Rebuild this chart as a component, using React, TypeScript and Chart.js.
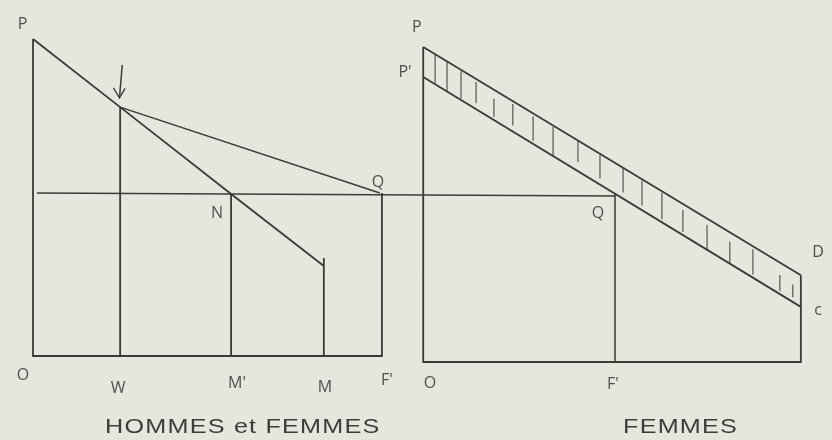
import React, { useEffect, useRef } from "react";
import { Chart, registerables } from "chart.js";

Chart.register(...registerables);

// ---- Data (diagram units) ----
// Left panel: HOMMES et FEMMES
const leftFrameX = [0, 0, 99.7, 99.7];
const leftFrameY = [100, 0, 0, 51.4];
const demandX = [0, 24.9, 56.6, 83.1];
const demandY = [100, 78.5, 51.1, 28.4];
const chordX = [24.9, 99.1];
const chordY = [78.5, 51.4];
const dropX = [24.9, 56.6, 83.1];
const dropTopY = [78.5, 51.1, 30.9];
const arrowX = [25.5, 24.7];
const arrowY = [91.8, 81.4];
const arrowHeadX = [23.0, 24.7, 26.3];
const arrowHeadY = [84.6, 81.4, 84.4];
// Common wage level
const wageLineX = [1.1, 166.3];
const wageLineY = [51.4, 50.5];
// Right panel: FEMMES
const rightFrameX = [111.5, 111.5, 219.4, 219.4];
const rightFrameY = [97.5, -1.9, -1.9, 25.5];
const topLineX = [111.5, 219.4];
const topLineY = [97.5, 25.5];
const lowLineX = [111.5, 219.4];
const lowLineY = [88.0, 15.5];
const qDropX = [166.3, 166.3];
const qDropY = [51.2, -1.9];
const hatchX = [114.9, 118.3, 122.3, 126.6, 131.7, 137.1, 142.9, 148.6, 155.7, 162.0, 168.6, 174.0, 179.7, 185.7, 192.6, 199.1, 205.7, 213.4, 217.1];
const hatchFrom = [0.0, 0.0, 0.05, 0.1, 0.3, 0.1, 0.1, 0.05, 0.0, 0.05, 0.0, 0.05, 0.05, 0.2, 0.2, 0.3, 0.1, 0.4, 0.45];
const hatchTo = [0.95, 1.0, 0.95, 0.8, 0.9, 0.8, 0.9, 1.0, 0.7, 0.8, 0.8, 0.85, 0.9, 0.9, 1.0, 1.0, 0.9, 0.9, 0.85];

// Labels
const labelText = ["P", "O", "W", "M'", "M", "F'", "Q", "N", "P", "P'", "Q", "D", "c", "O", "F'"];
const labelX = [-3.0, -2.9, 24.3, 58.3, 83.4, 101.1, 98.6, 52.6, 109.7, 106.3, 161.4, 224.3, 224.3, 113.4, 165.7];
const labelY = [104.5, -6.0, -10.1, -8.5, -9.8, -7.6, 54.9, 45.1, 103.8, 89.3, 45.1, 32.8, 14.5, -8.5, -9.1];
const titleText = ["HOMMES et FEMMES", "FEMMES"];
const titleX = [20.6, 168.6];
const titleY = [-24.3, -24.3];

const LINE = "#3a3a3a";

function pts(xs: number[], ys: number[]) {
  return xs.map((x, i) => ({ x, y: ys[i] }));
}

function lineAt(xs: number[], ys: number[], x: number) {
  const t = (x - xs[0]) / (xs[1] - xs[0]);
  return ys[0] + t * (ys[1] - ys[0]);
}

export default function App() {
  const ref = useRef<HTMLCanvasElement>(null);

  useEffect(() => {
    if (!ref.current) return;

    const dropPts: any[] = [];
    dropX.forEach((x, i) => {
      dropPts.push({ x, y: 0 }, { x, y: dropTopY[i] }, { x, y: null });
    });

    const hatchPts: any[] = [];
    hatchX.forEach((x, i) => {
      const top = lineAt(topLineX, topLineY, x);
      const low = lineAt(lowLineX, lowLineY, x);
      const gap = top - low;
      hatchPts.push(
        { x, y: top - gap * hatchFrom[i] },
        { x, y: top - gap * hatchTo[i] },
        { x, y: null }
      );
    });

    const mk = (data: any[], width = 1.8, color = LINE) => ({
      data,
      showLine: true,
      spanGaps: false,
      borderColor: color,
      borderWidth: width,
      pointRadius: 0,
      fill: false,
      tension: 0,
    });

    const labelsPlugin = {
      id: "diagramLabels",
      afterDatasetsDraw(chart: any) {
        const { ctx, scales } = chart;
        ctx.save();
        ctx.fillStyle = "#505050";
        ctx.textAlign = "center";
        ctx.textBaseline = "middle";
        ctx.font = "16px 'Open Sans'";
        labelText.forEach((t, i) => {
          ctx.fillText(t, scales.x.getPixelForValue(labelX[i]), scales.y.getPixelForValue(labelY[i]));
        });
        ctx.fillStyle = "#3c3c3c";
        ctx.textAlign = "left";
        ctx.textBaseline = "alphabetic";
        ctx.font = "21px 'Liberation Sans'";
        (ctx as any).letterSpacing = "1px";
        titleText.forEach((t, i) => {
          ctx.save();
          ctx.translate(scales.x.getPixelForValue(titleX[i]), scales.y.getPixelForValue(titleY[i]));
          ctx.scale(1.2, 1);
          ctx.fillText(t, 0, 0);
          ctx.restore();
        });
        ctx.restore();
      },
    };

    const chart = new Chart(ref.current, {
      type: "scatter",
      data: {
        datasets: [
          mk(pts(leftFrameX, leftFrameY)),
          mk(pts(demandX, demandY)),
          mk(pts(chordX, chordY), 1.5),
          mk(dropPts),
          mk(pts(arrowX, arrowY), 1.5),
          mk(pts(arrowHeadX, arrowHeadY), 1.3),
          mk(pts(wageLineX, wageLineY), 1.5),
          mk(pts(rightFrameX, rightFrameY)),
          mk(pts(topLineX, topLineY)),
          mk(pts(lowLineX, lowLineY)),
          mk(pts(qDropX, qDropY), 1.5),
          mk(hatchPts, 1.2, "#555"),
        ] as any,
      },
      options: {
        animation: false,
        responsive: false,
        events: [],
        layout: { padding: 0 },
        plugins: { legend: { display: false }, tooltip: { enabled: false } },
        scales: {
          x: { type: "linear", display: false, min: -9.43, max: 228.3 },
          y: { type: "linear", display: false, min: -26.5, max: 112.3 },
        },
      },
      plugins: [labelsPlugin],
    });

    return () => chart.destroy();
  }, []);

  return (
    <div
      style={{
        position: "absolute",
        left: 0,
        top: 0,
        width: 832,
        height: 440,
        background: "rgb(229,230,220)",
      }}
    >
      <canvas ref={ref} width={832} height={440} />
    </div>
  );
}
